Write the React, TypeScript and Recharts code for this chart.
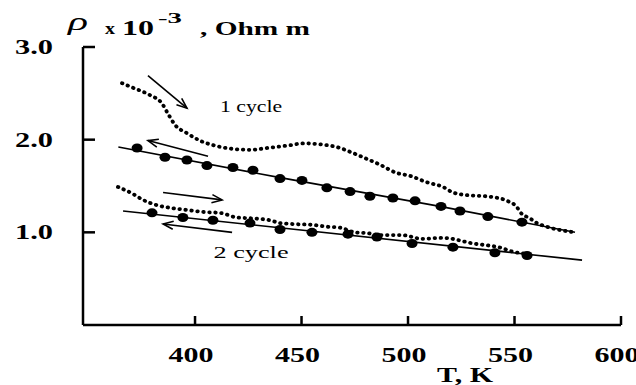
import React from 'react';
import { ComposedChart, Line, Scatter, XAxis, YAxis, ReferenceLine, ReferenceDot } from 'recharts';

// 1st cycle, heating (dotted curve)
const heating1 = [
  { T: 365.7, rho: 2.61 }, { T: 370.9, rho: 2.56 }, { T: 378.9, rho: 2.48 }, { T: 384.5, rho: 2.39 },
  { T: 387.3, rho: 2.28 }, { T: 390.6, rho: 2.16 }, { T: 396.2, rho: 2.07 }, { T: 402.3, rho: 1.99 },
  { T: 410.3, rho: 1.93 }, { T: 417.8, rho: 1.9 }, { T: 425.8, rho: 1.89 }, { T: 433.8, rho: 1.91 },
  { T: 444.6, rho: 1.94 }, { T: 450.7, rho: 1.96 }, { T: 458.7, rho: 1.95 }, { T: 468.1, rho: 1.91 },
  { T: 473.7, rho: 1.86 }, { T: 478.9, rho: 1.81 }, { T: 486.8, rho: 1.73 }, { T: 494.8, rho: 1.64 },
  { T: 500.9, rho: 1.61 }, { T: 508.9, rho: 1.54 }, { T: 516.4, rho: 1.49 }, { T: 521.1, rho: 1.43 },
  { T: 528.2, rho: 1.4 }, { T: 536.1, rho: 1.39 }, { T: 539.9, rho: 1.38 }, { T: 546.5, rho: 1.34 },
  { T: 551.2, rho: 1.27 }, { T: 552.6, rho: 1.22 }, { T: 557.3, rho: 1.15 }, { T: 560.5, rho: 1.1 },
  { T: 565.2, rho: 1.06 }, { T: 578.4, rho: 1.0 },
];

// 1st cycle, cooling (measured points + fitted line)
const cooling1Dots = [
  { T: 372.8, rho: 1.91 }, { T: 385.9, rho: 1.81 }, { T: 396.2, rho: 1.78 }, { T: 405.6, rho: 1.72 },
  { T: 417.8, rho: 1.7 }, { T: 427.2, rho: 1.67 }, { T: 439.9, rho: 1.58 }, { T: 450.2, rho: 1.56 },
  { T: 461.9, rho: 1.48 }, { T: 472.8, rho: 1.44 }, { T: 482.1, rho: 1.39 }, { T: 492.9, rho: 1.37 },
  { T: 503.3, rho: 1.34 }, { T: 515.5, rho: 1.28 }, { T: 524.4, rho: 1.23 }, { T: 537.5, rho: 1.17 },
  { T: 553.5, rho: 1.11 },
];
const cooling1Fit = [{ T: 364, rho: 1.92 }, { T: 440, rho: 1.59 }, { T: 515, rho: 1.28 }, { T: 578.4, rho: 1.0 }];

// 2nd cycle, heating (dotted curve)
const heating2 = [
  { T: 363.8, rho: 1.49 }, { T: 370.4, rho: 1.42 }, { T: 375.6, rho: 1.35 }, { T: 382.6, rho: 1.29 },
  { T: 389.7, rho: 1.26 }, { T: 396.7, rho: 1.24 }, { T: 403.7, rho: 1.22 }, { T: 411.7, rho: 1.21 },
  { T: 419.7, rho: 1.16 }, { T: 427.2, rho: 1.15 }, { T: 435.2, rho: 1.13 }, { T: 439.9, rho: 1.1 },
  { T: 445.5, rho: 1.09 }, { T: 455.4, rho: 1.08 }, { T: 462.4, rho: 1.06 }, { T: 468.1, rho: 1.05 },
  { T: 475.1, rho: 1.0 }, { T: 481.2, rho: 0.99 }, { T: 486.8, rho: 0.97 }, { T: 497.2, rho: 0.97 },
  { T: 506.6, rho: 0.93 }, { T: 516.4, rho: 0.94 }, { T: 530.5, rho: 0.88 }, { T: 544.1, rho: 0.83 },
  { T: 549.3, rho: 0.79 }, { T: 555.9, rho: 0.77 },
];

// 2nd cycle, cooling
const cooling2Dots = [
  { T: 379.8, rho: 1.21 }, { T: 394.3, rho: 1.16 }, { T: 408.4, rho: 1.13 }, { T: 425.8, rho: 1.1 },
  { T: 439.9, rho: 1.03 }, { T: 454.9, rho: 1.0 }, { T: 471.8, rho: 0.98 }, { T: 485.4, rho: 0.95 },
  { T: 501.9, rho: 0.88 }, { T: 521.1, rho: 0.84 }, { T: 540.8, rho: 0.78 }, { T: 555.9, rho: 0.75 },
];
const cooling2Fit = [{ T: 366.2, rho: 1.23 }, { T: 581.7, rho: 0.7 }];

// direction arrows (data units)
const arrows = [
  { from: { x: 377.9, y: 2.69 }, to: { x: 396.2, y: 2.34 } },
  { from: { x: 406.1, y: 1.82 }, to: { x: 377.9, y: 1.99 } },
  { from: { x: 385.0, y: 1.43 }, to: { x: 412.7, y: 1.35 } },
  { from: { x: 417.4, y: 1.0 }, to: { x: 385.0, y: 1.09 } },
];

const cycleLabels = [
  { T: 426.3, rho: 2.36, text: '1 cycle', len: 62 },
  { T: 426.3, rho: 0.79, text: '2 cycle', len: 75 },
];

const xTicks = [400, 450, 500, 550, 600];
const yTicks = [1, 2, 3];
const X_MIN = 347.4;
const X_MAX = 600;
const Y_MIN = 0;
const Y_MAX = 3;

const W = 636;
const H = 385;
const MARGIN = { top: 47, right: 15, bottom: 30, left: 0 };
const Y_AXIS_W = 83;
const X_AXIS_H = 30;

// plot rectangle, same numbers the chart uses for its layout
const PLOT_L = MARGIN.left + Y_AXIS_W;
const PLOT_R = W - MARGIN.right;
const PLOT_T = MARGIN.top;
const PLOT_B = H - MARGIN.bottom - X_AXIS_H;
const sx = (v: number) => PLOT_L + ((v - X_MIN) / (X_MAX - X_MIN)) * (PLOT_R - PLOT_L);
const sy = (v: number) => PLOT_B - ((v - Y_MIN) / (Y_MAX - Y_MIN)) * (PLOT_B - PLOT_T);

const SERIF = '"Liberation Serif", "DejaVu Serif", serif';

const YTick = ({ x, y, payload }: any) => (
  <text x={x} y={y + 7} textAnchor="end" fontFamily={SERIF} fontWeight="bold" fontSize={20} fill="#000"
    textLength={38} lengthAdjust="spacingAndGlyphs">
    {Number(payload.value).toFixed(1)}
  </text>
);

const XTick = ({ x, y, payload }: any) => (
  <text x={x - 4} y={y + 37} textAnchor="middle" fontFamily={SERIF} fontWeight="bold" fontSize={20} fill="#000"
    textLength={45} lengthAdjust="spacingAndGlyphs">
    {payload.value}
  </text>
);

const BigDot = ({ cx, cy }: any) => <ellipse cx={cx} cy={cy} rx={5.5} ry={4.5} fill="#000" />;

const Arrow = ({ x1, y1, x2, y2 }: any) => {
  const a = Math.atan2(y2 - y1, x2 - x1);
  const L = 11;
  const s = 0.38;
  const p1 = `${x2 - L * Math.cos(a - s)},${y2 - L * Math.sin(a - s)}`;
  const p2 = `${x2 - L * Math.cos(a + s)},${y2 - L * Math.sin(a + s)}`;
  return (
    <g stroke="#000" strokeWidth={1.6} fill="none">
      <line x1={x1} y1={y1} x2={x2} y2={y2} />
      <polyline points={`${p1} ${x2},${y2} ${p2}`} />
    </g>
  );
};

const YLabel = () => (
  <g fontFamily={SERIF} fill="#000">
    <text x={68} y={30} fontSize={26} fontStyle="italic" textLength={20} lengthAdjust="spacingAndGlyphs">ρ</text>
    <text x={105} y={34} fontSize={16} fontWeight="bold" textLength={10} lengthAdjust="spacingAndGlyphs">x</text>
    <text x={122} y={35} fontSize={20} fontWeight="bold" textLength={32} lengthAdjust="spacingAndGlyphs">10</text>
    <text x={158} y={23} fontSize={15} fontWeight="bold" textLength={24} lengthAdjust="spacingAndGlyphs">-3</text>
    <text x={200} y={35} fontSize={19} fontWeight="bold" textLength={110} lengthAdjust="spacingAndGlyphs">, Ohm m</text>
  </g>
);

const XLabel = () => (
  <text x={437} y={382} fontFamily={SERIF} fontWeight="bold" fontSize={20} fill="#000"
    textLength={56} lengthAdjust="spacingAndGlyphs">T, K</text>
);

// inward tick marks, drawn on a plain svg layer over the chart
const TickOverlay = () => (
  <svg width={W} height={H} style={{ position: 'absolute', left: 0, top: 0, pointerEvents: 'none' }}>
    <g stroke="#000" strokeWidth={2.5}>
      {yTicks.map((v) => (
        <line key={`y${v}`} x1={PLOT_L} y1={sy(v)} x2={PLOT_L + 12} y2={sy(v)} />
      ))}
      {xTicks.map((v) => (
        <line key={`x${v}`} x1={sx(v)} y1={PLOT_B} x2={sx(v)} y2={PLOT_B - 9} />
      ))}
    </g>
  </svg>
);

export default function App() {
  return (
    <div style={{ position: 'absolute', left: 0, top: 0, width: W, height: H, background: '#fff' }}>
      <ComposedChart width={W} height={H} margin={MARGIN}>
        <XAxis type="number" dataKey="T" domain={[X_MIN, X_MAX]} ticks={xTicks} allowDataOverflow height={X_AXIS_H}
          axisLine={{ stroke: '#000', strokeWidth: 2.5 }} tickLine={false}
          tickSize={0} tickMargin={0} tick={<XTick />} label={XLabel} />
        <YAxis type="number" domain={[Y_MIN, Y_MAX]} ticks={yTicks} width={Y_AXIS_W} allowDataOverflow
          axisLine={{ stroke: '#000', strokeWidth: 2.5 }} tickLine={false}
          tickSize={0} tickMargin={30} tick={<YTick />} label={YLabel} />

        <Line data={heating1} dataKey="rho" type="monotone" stroke="#000" strokeWidth={3.8}
          strokeDasharray="0.5 5.5" strokeLinecap="round" dot={false} activeDot={false} isAnimationActive={false} />
        <Line data={heating2} dataKey="rho" type="monotone" stroke="#000" strokeWidth={3.8}
          strokeDasharray="0.5 5.5" strokeLinecap="round" dot={false} activeDot={false} isAnimationActive={false} />
        <Line data={cooling1Fit} dataKey="rho" type="linear" stroke="#000" strokeWidth={1.6}
          dot={false} activeDot={false} isAnimationActive={false} />
        <Line data={cooling2Fit} dataKey="rho" type="linear" stroke="#000" strokeWidth={1.6}
          dot={false} activeDot={false} isAnimationActive={false} />
        <Scatter data={cooling1Dots} dataKey="rho" shape={<BigDot />} isAnimationActive={false} />
        <Scatter data={cooling2Dots} dataKey="rho" shape={<BigDot />} isAnimationActive={false} />

        {arrows.map((a, i) => (
          <ReferenceLine key={i} segment={[a.from, a.to]} shape={(p: any) => <Arrow {...p} />} />
        ))}
        {cycleLabels.map((c) => (
          <ReferenceDot key={c.text} x={c.T} y={c.rho} r={0}
            shape={(p: any) => (
              <text x={p.cx - c.len / 2} y={p.cy + 6} fontFamily={SERIF} fontSize={16} fill="#000"
                textLength={c.len} lengthAdjust="spacingAndGlyphs">{c.text}</text>
            )} />
        ))}
      </ComposedChart>
      <TickOverlay />
    </div>
  );
}
